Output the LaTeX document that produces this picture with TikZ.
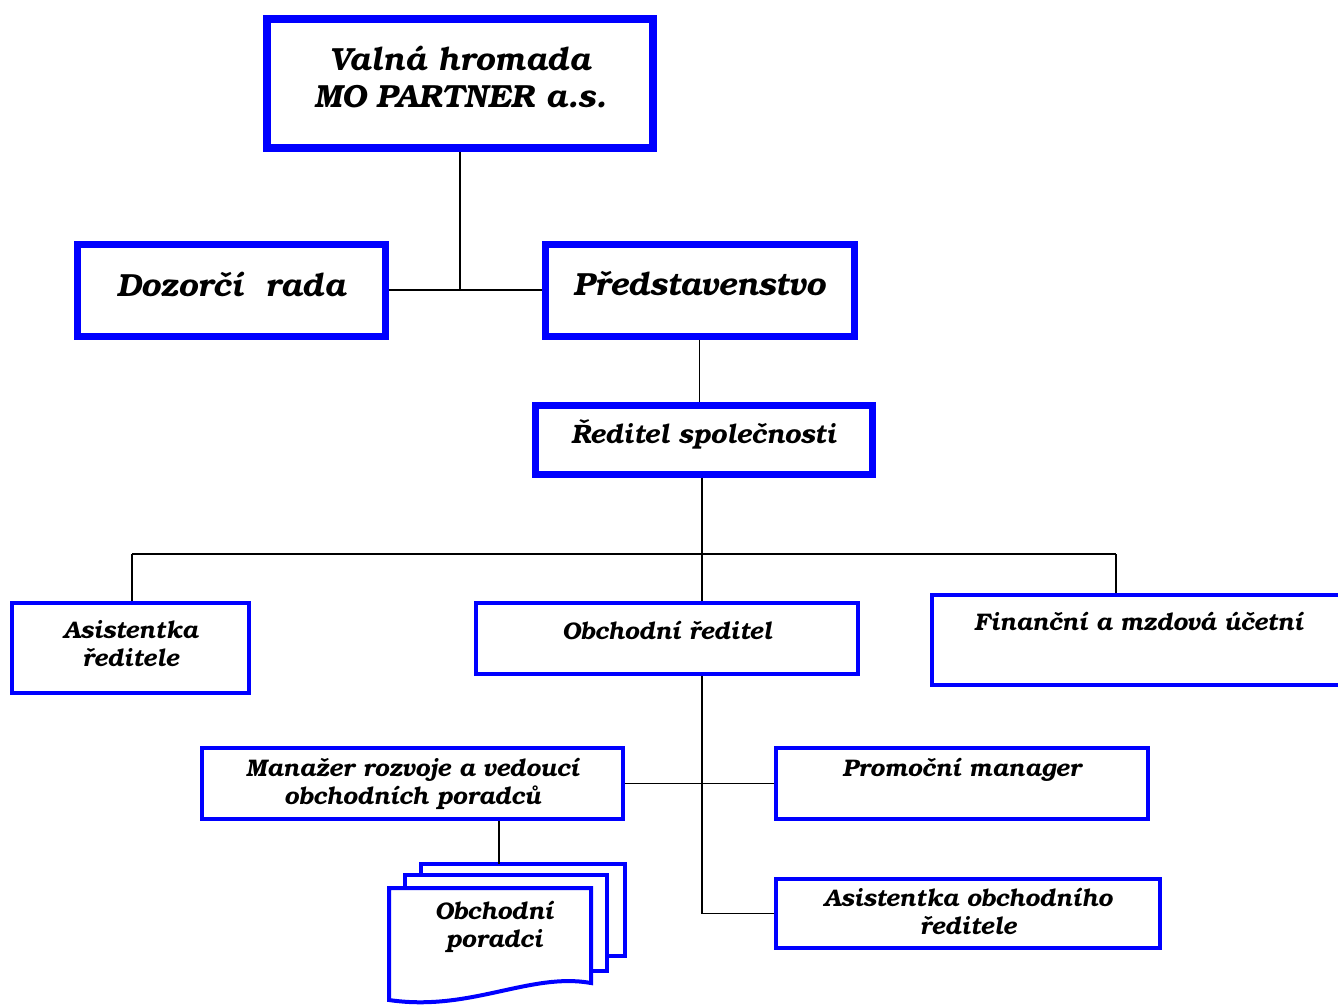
\documentclass[tikz,border=0pt]{standalone}
\usepackage{fontspec}
\newfontfamily\orgfont{texgyrebonum-bolditalic.otf}
\usetikzlibrary{positioning}
\definecolor{orgblue}{RGB}{0,0,255}
\tikzset{
  orgbox/.style={draw=orgblue, fill=white, rectangle, inner sep=0pt},
  bigbox/.style={orgbox, line width=4pt},
  midbox/.style={orgbox, line width=3.5pt},
  smallbox/.style={orgbox, line width=2pt},
  bigtxt/.style={inner sep=0pt, align=center, font=\orgfont\fontsize{16}{18.5}\selectfont},
  midtxt/.style={inner sep=0pt, align=center, font=\orgfont\fontsize{13.3}{15}\selectfont},
  smalltxt/.style={inner sep=0pt, align=center, font=\orgfont\fontsize{12}{14}\selectfont},
  link/.style={line width=0.9pt, black},
  page/.style={draw=orgblue, fill=white, line width=2pt},
}
\begin{document}
\begin{tikzpicture}[x=0.5pt, y=-0.5pt]
  \useasboundingbox (0,0) rectangle (1338,1006);
  % top of the company
  \node[bigbox, minimum width=193pt, minimum height=64.5pt] (valna) at (460,83.5) {};
  \node[bigtxt] (valnaT) at ([yshift=3pt]valna.center) {Valná hromada\\MO PARTNER a.s.};
  \node[midbox, minimum width=154pt, minimum height=46pt] (dozor) at (231,290) {};
  \node[bigtxt] (dozorT) at ([yshift=3pt]dozor.center) {Dozorčí~~rada};
  \node[midbox, minimum width=154.5pt, minimum height=46pt] (pred) at (699.5,290) {};
  \node[bigtxt] (predT) at ([yshift=3pt]pred.center) {Představenstvo};
  \node[midbox, minimum width=168.5pt, minimum height=34.5pt] (red) at (703.5,439.5) {};
  \node[midtxt] (redT) at ([yshift=2.5pt]red.center) {Ředitel společnosti};
  % second level
  \node[smallbox, minimum width=118.5pt, minimum height=45pt] (asist) at (130.5,648) {};
  \node[smalltxt] (asistT) at ([yshift=2pt]asist.center) {Asistentka\\ředitele};
  \node[smallbox, minimum width=191pt, minimum height=35.5pt] (obch) at (667,638.5) {};
  \node[smalltxt, anchor=north, yshift=-10pt] (obchT) at (obch.north) {Obchodní ředitel};
  \node[smallbox, minimum width=206.5pt, minimum height=45pt] (fin) at (1138.5,640) {};
  \node[smalltxt, anchor=north, yshift=-9.5pt] (finT) at (fin.north) {Finanční a mzdová účetní};
  % sales department
  \node[smallbox, minimum width=210.5pt, minimum height=35.5pt] (man) at (412.5,783.5) {};
  \node[smalltxt] (manT) at (man.center) {Manažer rozvoje a vedoucí\\obchodních poradců};
  \node[smallbox, minimum width=186pt, minimum height=35.5pt] (prom) at (962,783.5) {};
  \node[smalltxt, anchor=north, yshift=-6pt] (promT) at (prom.north) {Promoční manager};
  \node[smallbox, minimum width=192pt, minimum height=34.5pt] (asob) at (968,913.5) {};
  \node[smalltxt] (asobT) at ([yshift=1pt]asob.center) {Asistentka obchodního\\ředitele};
  % stack of pages
  \draw[page] (421,864) rectangle (625,956);
  \draw[page] (405,875) rectangle (607,971);
  \draw[page] (389,888) -- (591,888) -- (591,983)
    .. controls (530,972) and (470,1012) .. (389,1000) -- cycle;
  \node[smalltxt] (porT) at (494,927) {Obchodní\\poradci};
  \coordinate (porTop) at (499,864);
  % connectors
  \coordinate (bus) at (702,554);
  \coordinate (busL) at (132,554);
  \coordinate (busR) at (1116,554);
  \draw[link] (valna.south) -- (valna.south |- dozor.east);
  \draw[link] (dozor.east) -- (pred.west);
  \draw[link] (pred.south) -- (pred.south |- red.north);
  \draw[link] (red.south -| bus) -- (bus);
  \draw[link] (busL) -- (busR);
  \draw[link] (busL) -- (busL |- asist.north);
  \draw[link] (bus) -- (bus |- obch.north);
  \draw[link] (busR) -- (busR |- fin.north);
  \draw[link] (bus |- obch.south) -- (bus |- asob.west) -- (asob.west);
  \draw[link] (man.east) -- (prom.west);
  \draw[link] (man.south -| porTop) -- (porTop);
\end{tikzpicture}
\end{document}
